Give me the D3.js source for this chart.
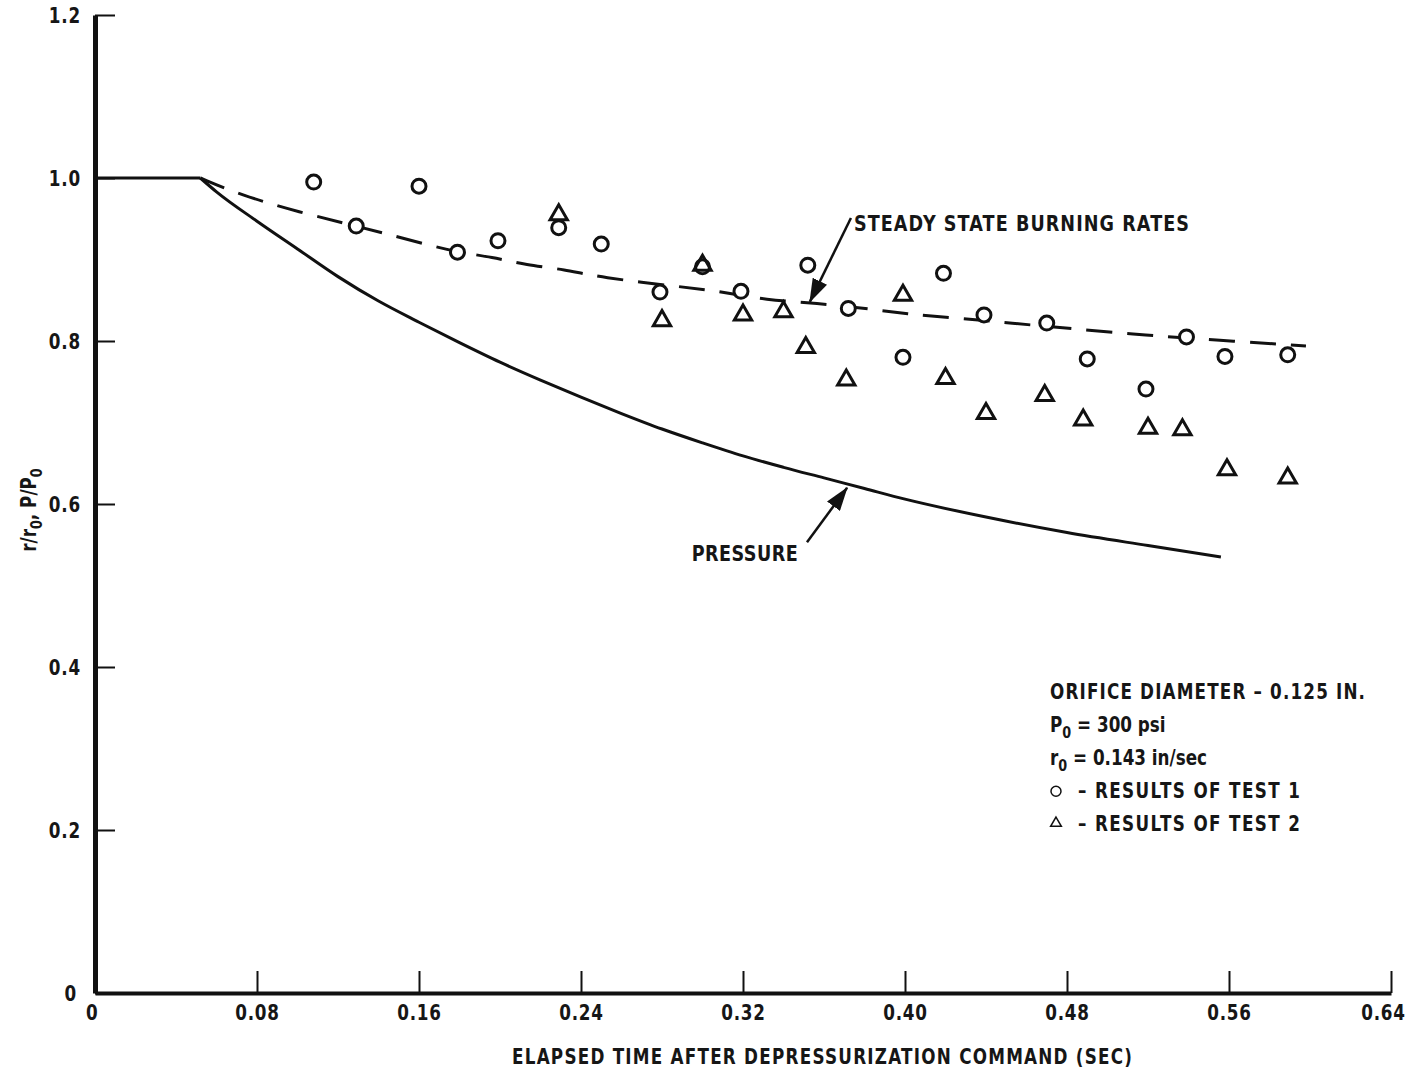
<!DOCTYPE html>
<html>
<head>
<meta charset="utf-8">
<script src="https://cdn.jsdelivr.net/npm/d3@7"></script>
<style>
    body { margin: 0; background: #fff; }
    svg text { font-family: "DejaVu Sans", sans-serif; font-weight: bold; fill: #161616; }
</style>
</head>
<body>
<svg id="chart" width="1411" height="1071"></svg>
<script>
// ---- data ----
var xTicks = [0, 0.08, 0.16, 0.24, 0.32, 0.40, 0.48, 0.56, 0.64];
var yTicks = [0, 0.2, 0.4, 0.6, 0.8, 1.0, 1.2];

// initial flat part, before depressurization
var initialLevel = [[0, 1.0], [0.052, 1.0]];

// pressure P/P0
var pressure = [[0.052, 1.0], [0.06, 0.983], [0.08, 0.947], [0.10, 0.913], [0.12, 0.879],
    [0.14, 0.849], [0.16, 0.823], [0.18, 0.798], [0.20, 0.774], [0.22, 0.752],
    [0.24, 0.731], [0.26, 0.711], [0.28, 0.692], [0.30, 0.675], [0.32, 0.659],
    [0.34, 0.645], [0.36, 0.632], [0.38, 0.619], [0.40, 0.606], [0.44, 0.584],
    [0.48, 0.565], [0.52, 0.549], [0.556, 0.535]];

// steady state burning rates r/r0
var steadyRate = [[0.052, 1.0], [0.072, 0.979], [0.101, 0.958], [0.129, 0.941], [0.146, 0.930],
    [0.166, 0.917], [0.179, 0.909], [0.196, 0.903], [0.213, 0.893], [0.232, 0.888],
    [0.249, 0.878], [0.291, 0.866], [0.308, 0.861], [0.332, 0.850], [0.355, 0.847],
    [0.387, 0.838], [0.405, 0.832], [0.427, 0.828], [0.452, 0.822], [0.483, 0.815],
    [0.519, 0.807], [0.554, 0.801], [0.598, 0.794]];

// test 1 (circles)
var test1 = [[0.108, 0.995], [0.129, 0.941], [0.160, 0.990], [0.179, 0.909], [0.199, 0.923],
    [0.229, 0.939], [0.250, 0.919], [0.279, 0.860], [0.300, 0.891], [0.319, 0.861],
    [0.352, 0.893], [0.372, 0.840], [0.399, 0.780], [0.419, 0.883], [0.439, 0.832],
    [0.470, 0.822], [0.490, 0.778], [0.519, 0.741], [0.539, 0.805], [0.558, 0.781],
    [0.589, 0.783]];

// test 2 (triangles)
var test2 = [[0.229, 0.955], [0.300, 0.893], [0.280, 0.825], [0.320, 0.832], [0.340, 0.836],
    [0.351, 0.792], [0.371, 0.752], [0.399, 0.856], [0.420, 0.754], [0.440, 0.711],
    [0.469, 0.733], [0.488, 0.703], [0.520, 0.693], [0.537, 0.691], [0.559, 0.642],
    [0.589, 0.632]];

var legendLines = ["ORIFICE DIAMETER \u2013 0.125 IN.", "P0 = 300 psi", "r0 = 0.143 in/sec",
    "\u2013 RESULTS OF TEST 1", "\u2013 RESULTS OF TEST 2"];

// ---- setup ----
var svg = d3.select("#chart"),
    ink = "#111",
    squeeze = 0.8; // no condensed face installed, so squash glyphs horizontally

var x = d3.scaleLinear().domain([0, 0.64]).range([95, 1391]),
    y = d3.scaleLinear().domain([0, 1.2]).range([993, 15]);

// text placed at (px, py), condensed; width (if given) is the final on-screen width
function label(parent, px, py, size, str, width, rotate) {
    var t = parent.append("text")
        .attr("transform", "translate(" + px + "," + py + ")" + (rotate ? " rotate(" + rotate + ")" : "") +
            " scale(" + squeeze + ",1)")
        .attr("font-size", size);
    if (str !== null) t.text(str);
    if (width) t.attr("textLength", width / squeeze).attr("lengthAdjust", "spacing");
    return t;
}

var defs = svg.append("defs");
defs.append("marker")
    .attr("id", "head")
    .attr("markerUnits", "userSpaceOnUse")
    .attr("viewBox", "0 0 24 16")
    .attr("refX", 23).attr("refY", 8)
    .attr("markerWidth", 24).attr("markerHeight", 16)
    .attr("orient", "auto")
    .append("path")
    .attr("d", "M0,0 L24,8 L0,16 Z")
    .attr("fill", ink);

// axes
var yAxis = d3.axisLeft(y)
    .tickValues(yTicks)
    .tickSizeInner(-20)
    .tickSizeOuter(0)
    .tickPadding(14)
    .tickFormat(function (d) { return d === 0 ? "0" : d.toFixed(1); });

var xAxis = d3.axisBottom(x)
    .tickValues(xTicks)
    .tickSizeInner(-22)
    .tickSizeOuter(0)
    .tickPadding(12)
    .tickFormat(function (d) { return d === 0 ? "0" : d.toFixed(2); });

var gy = svg.append("g").attr("transform", "translate(95,0)").call(yAxis);
var gx = svg.append("g").attr("transform", "translate(0,993)").call(xAxis);

gy.select(".domain").attr("stroke", ink).attr("stroke-width", 5);
gx.select(".domain").attr("stroke", ink).attr("stroke-width", 4);
svg.selectAll(".tick line").attr("stroke", ink).attr("stroke-width", 2);
svg.selectAll(".tick text")
    .attr("font-size", 21)
    .attr("font-family", null)
    .attr("letter-spacing", 1)
    .attr("transform", "scale(" + squeeze + ",1)")
    .style("fill", "#161616");
gx.selectAll(".tick text").attr("dy", "0.71em");
gy.selectAll(".tick text").attr("dy", "0.36em").attr("x", -14 / squeeze);
// end labels sit slightly off their ticks
gx.selectAll(".tick").filter(function (d) { return d === 0; }).select("text").attr("dx", -4);
gx.selectAll(".tick").filter(function (d) { return d === 0.64; }).select("text").attr("dx", -10);
gy.selectAll(".tick").filter(function (d) { return d === 0; }).select("text").attr("dx", -5);

// axis titles
label(svg, 822, 1064, 21, "ELAPSED TIME AFTER DEPRESSURIZATION COMMAND (SEC)", 620)
    .attr("text-anchor", "middle");

var ylab = label(svg, 36, 510, 21, null, null, -90).attr("text-anchor", "middle");
ylab.append("tspan").text("r/r");
ylab.append("tspan").attr("dy", 6).attr("font-size", 16).text("0");
ylab.append("tspan").attr("dy", -6).text(", P/P");
ylab.append("tspan").attr("dy", 6).attr("font-size", 16).text("0");

// ---- curves ----
var straight = d3.line().x(function (d) { return x(d[0]); }).y(function (d) { return y(d[1]); });
var smooth = d3.line().x(function (d) { return x(d[0]); }).y(function (d) { return y(d[1]); })
    .curve(d3.curveMonotoneX);
var smoothBasis = d3.line().x(function (d) { return x(d[0]); }).y(function (d) { return y(d[1]); })
    .curve(d3.curveBasis);

svg.append("path").datum(initialLevel)
    .attr("d", straight).attr("fill", "none").attr("stroke", ink).attr("stroke-width", 3);

svg.append("path").datum(pressure)
    .attr("d", smooth).attr("fill", "none").attr("stroke", ink).attr("stroke-width", 3);

svg.append("path").datum(steadyRate)
    .attr("d", smoothBasis).attr("fill", "none").attr("stroke", ink).attr("stroke-width", 3)
    .attr("stroke-dasharray", "26,15");

// ---- test points ----
svg.append("g").selectAll("circle").data(test1).enter().append("circle")
    .attr("cx", function (d) { return x(d[0]); })
    .attr("cy", function (d) { return y(d[1]); })
    .attr("r", 7)
    .attr("fill", "#fff")
    .attr("stroke", ink)
    .attr("stroke-width", 3);

var tri = d3.symbol().type(d3.symbolTriangle).size(130);
svg.append("g").selectAll("path").data(test2).enter().append("path")
    .attr("transform", function (d) { return "translate(" + x(d[0]) + "," + y(d[1]) + ")"; })
    .attr("d", tri)
    .attr("fill", "none")
    .attr("stroke", ink)
    .attr("stroke-width", 3)
    .attr("stroke-linejoin", "miter");

// ---- annotations ----
svg.append("line")
    .attr("x1", x(0.3733)).attr("y1", y(0.951))
    .attr("x2", x(0.353)).attr("y2", y(0.848))
    .attr("stroke", ink).attr("stroke-width", 2.5)
    .attr("marker-end", "url(#head)");
label(svg, x(0.3748), y(0.9345), 22, "STEADY STATE BURNING RATES", 335);

svg.append("line")
    .attr("x1", x(0.3516)).attr("y1", y(0.553))
    .attr("x2", x(0.3714)).attr("y2", y(0.620))
    .attr("stroke", ink).attr("stroke-width", 2.5)
    .attr("marker-end", "url(#head)");
label(svg, x(0.347), y(0.530), 22, "PRESSURE", 106).attr("text-anchor", "end");

// ---- legend block ----
var lx = x(0.4716), ly = y(0.369), step = 33;
var legend = svg.append("g").attr("transform", "translate(" + lx + "," + ly + ")");

label(legend, 0, 7, 21, legendLines[0], 315);

[1, 2].forEach(function (i) {
    var parts = legendLines[i].split("0 = ");
    var t = label(legend, 0, step * i + 7, 21, null, null);
    t.append("tspan").text(parts[0]);
    t.append("tspan").attr("dy", 6).attr("font-size", 16).text("0");
    t.append("tspan").attr("dy", -6).text(" = " + parts[1]);
});

legend.append("circle")
    .attr("cx", 6).attr("cy", step * 3)
    .attr("r", 5).attr("fill", "none").attr("stroke", ink).attr("stroke-width", 1.5);
legend.append("path")
    .attr("transform", "translate(6," + (step * 4 - 1) + ")")
    .attr("d", d3.symbol().type(d3.symbolTriangle).size(50))
    .attr("fill", "none").attr("stroke", ink).attr("stroke-width", 1.5);

[3, 4].forEach(function (i) {
    label(legend, 28, step * i + 7, 21, legendLines[i], 222);
});
</script>
</body>
</html>
